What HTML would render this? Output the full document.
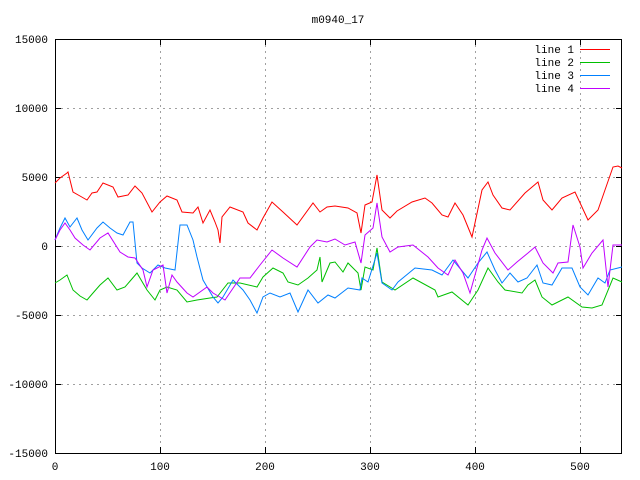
<!DOCTYPE html>
<html><head><meta charset="utf-8"><style>
html,body{margin:0;padding:0;background:#fff;}
svg{display:block;font-family:"Liberation Mono","DejaVu Sans Mono",monospace;font-size:11px;}
</style></head><body>
<svg width="640" height="480" viewBox="0 0 640 480" xmlns="http://www.w3.org/2000/svg">
<rect width="640" height="480" fill="#fff"/>
<g stroke="#a0a0a0" stroke-dasharray="2,4" stroke-width="1">
<line x1="55" y1="108.5" x2="622" y2="108.5"/>
<line x1="55" y1="177.5" x2="622" y2="177.5"/>
<line x1="55" y1="246.5" x2="622" y2="246.5"/>
<line x1="55" y1="315.5" x2="622" y2="315.5"/>
<line x1="55" y1="384.5" x2="622" y2="384.5"/>
<line x1="55" y1="39.5" x2="622" y2="39.5"/>
<line x1="160.5" y1="39" x2="160.5" y2="453"/>
<line x1="265.5" y1="39" x2="265.5" y2="453"/>
<line x1="370.5" y1="39" x2="370.5" y2="453"/>
<line x1="475.5" y1="39" x2="475.5" y2="453"/>
<line x1="580.5" y1="39" x2="580.5" y2="453"/>
</g>
<rect x="55.5" y="39.5" width="566" height="414" fill="none" stroke="#000"/>
<g stroke="#000">
<line x1="55" y1="108.5" x2="61" y2="108.5"/><line x1="616" y1="108.5" x2="622" y2="108.5"/>
<line x1="55" y1="177.5" x2="61" y2="177.5"/><line x1="616" y1="177.5" x2="622" y2="177.5"/>
<line x1="55" y1="246.5" x2="61" y2="246.5"/><line x1="616" y1="246.5" x2="622" y2="246.5"/>
<line x1="55" y1="315.5" x2="61" y2="315.5"/><line x1="616" y1="315.5" x2="622" y2="315.5"/>
<line x1="55" y1="384.5" x2="61" y2="384.5"/><line x1="616" y1="384.5" x2="622" y2="384.5"/>
<line x1="160.5" y1="453" x2="160.5" y2="447"/><line x1="160.5" y1="39" x2="160.5" y2="45"/>
<line x1="265.5" y1="453" x2="265.5" y2="447"/><line x1="265.5" y1="39" x2="265.5" y2="45"/>
<line x1="370.5" y1="453" x2="370.5" y2="447"/><line x1="370.5" y1="39" x2="370.5" y2="45"/>
<line x1="475.5" y1="453" x2="475.5" y2="447"/><line x1="475.5" y1="39" x2="475.5" y2="45"/>
<line x1="580.5" y1="453" x2="580.5" y2="447"/><line x1="580.5" y1="39" x2="580.5" y2="45"/>
</g>
<g fill="#000" text-anchor="end">
<text x="48" y="43">15000</text><text x="48" y="112">10000</text><text x="48" y="181">5000</text>
<text x="48" y="250">0</text><text x="48" y="319">-5000</text><text x="48" y="388">-10000</text><text x="48" y="457">-15000</text>
</g>
<g fill="#000" text-anchor="middle">
<text x="55" y="470">0</text><text x="160" y="470">100</text><text x="265" y="470">200</text>
<text x="370" y="470">300</text><text x="475" y="470">400</text><text x="580" y="470">500</text>
<text x="338" y="23">m0940_17</text>
</g>
<g fill="#000" text-anchor="end">
<text x="574" y="53">line 1</text><text x="574" y="66">line 2</text><text x="574" y="79">line 3</text><text x="574" y="92">line 4</text>
</g>
<line x1="580" y1="49.5" x2="610" y2="49.5" stroke="#ff0000"/>
<line x1="580" y1="62.5" x2="610" y2="62.5" stroke="#00c000"/>
<line x1="580" y1="75.5" x2="610" y2="75.5" stroke="#0080ff"/>
<line x1="580" y1="88.5" x2="610" y2="88.5" stroke="#c000ff"/>
<g fill="none" stroke-width="1">
<polyline stroke="#00c000" points="55,283 60,280 67,275 73,290 80,296 87,300 93,293 100,285 108,278 117,290 125,287 131,280 137,273 147,290 155,300 160,290 167,287 177,290 187,302 197,300 210,298 217,297 228,283 240,283 257,287 263,277 273,268 283,273 288,282 298,285 308,278 317,270 320,257 322,282 330,263 335,262 343,272 348,263 358,273 361,290 365,267 373,270 377,248 382,282 395,290 413,278 435,290 438,297 452,292 468,305 478,290 488,268 498,282 505,290 522,293 528,285 535,280 542,297 552,305 568,297 582,307 592,308 602,305 613,278 622,282"/>
<polyline stroke="#0080ff" points="55,240 60,228 65,218 70,227 77,218 82,230 88,240 97,228 103,222 110,228 117,233 123,235 130,222 133,222 137,263 142,268 150,273 158,265 165,268 175,270 180,225 187,225 193,240 197,257 203,280 213,297 218,303 223,297 233,280 243,290 250,300 257,313 263,297 270,293 280,297 290,293 298,312 308,290 318,303 328,295 335,298 348,288 360,290 362,278 368,282 377,253 382,283 392,290 398,282 415,268 432,270 442,275 453,260 468,278 478,263 487,252 495,270 502,283 510,273 518,282 527,278 537,265 543,283 552,285 562,268 572,268 580,287 588,295 598,278 605,283 610,270 622,267"/>
<polyline stroke="#c000ff" points="55,240 60,230 65,223 70,230 75,238 83,245 90,250 100,238 108,233 120,252 128,257 135,258 143,270 147,287 153,270 163,265 167,293 172,275 177,282 187,293 193,297 207,287 213,293 225,300 240,278 250,278 260,265 272,250 283,258 297,267 310,247 317,240 327,242 335,239 345,245 355,242 361,263 365,235 373,228 377,203 382,237 390,252 398,247 413,245 428,257 438,268 448,275 455,260 463,273 470,293 482,250 487,238 495,253 508,270 517,262 528,253 535,247 543,263 553,273 558,263 568,262 573,225 580,247 583,268 592,253 603,240 608,287 613,245 622,245"/>
<polyline stroke="#ff0000" points="55,183 60,178 67,173 68,172 73,192 80,196 87,200 92,193 97,192 103,183 113,187 118,197 128,195 135,186 142,193 152,212 160,202 167,196 177,200 182,212 193,213 198,207 203,223 210,210 215,222 218,230 220,243 222,217 230,207 243,212 248,223 257,230 263,218 272,202 283,212 297,225 313,203 320,212 327,207 335,206 348,208 357,213 361,233 365,205 372,202 377,175 382,210 390,218 397,211 412,202 425,198 432,203 442,215 448,217 455,203 463,215 472,237 482,190 488,182 493,195 502,208 510,210 525,193 538,182 543,200 552,210 562,198 575,192 588,220 598,210 613,167 618,166 622,168"/>
</g>
</svg>
</body></html>
